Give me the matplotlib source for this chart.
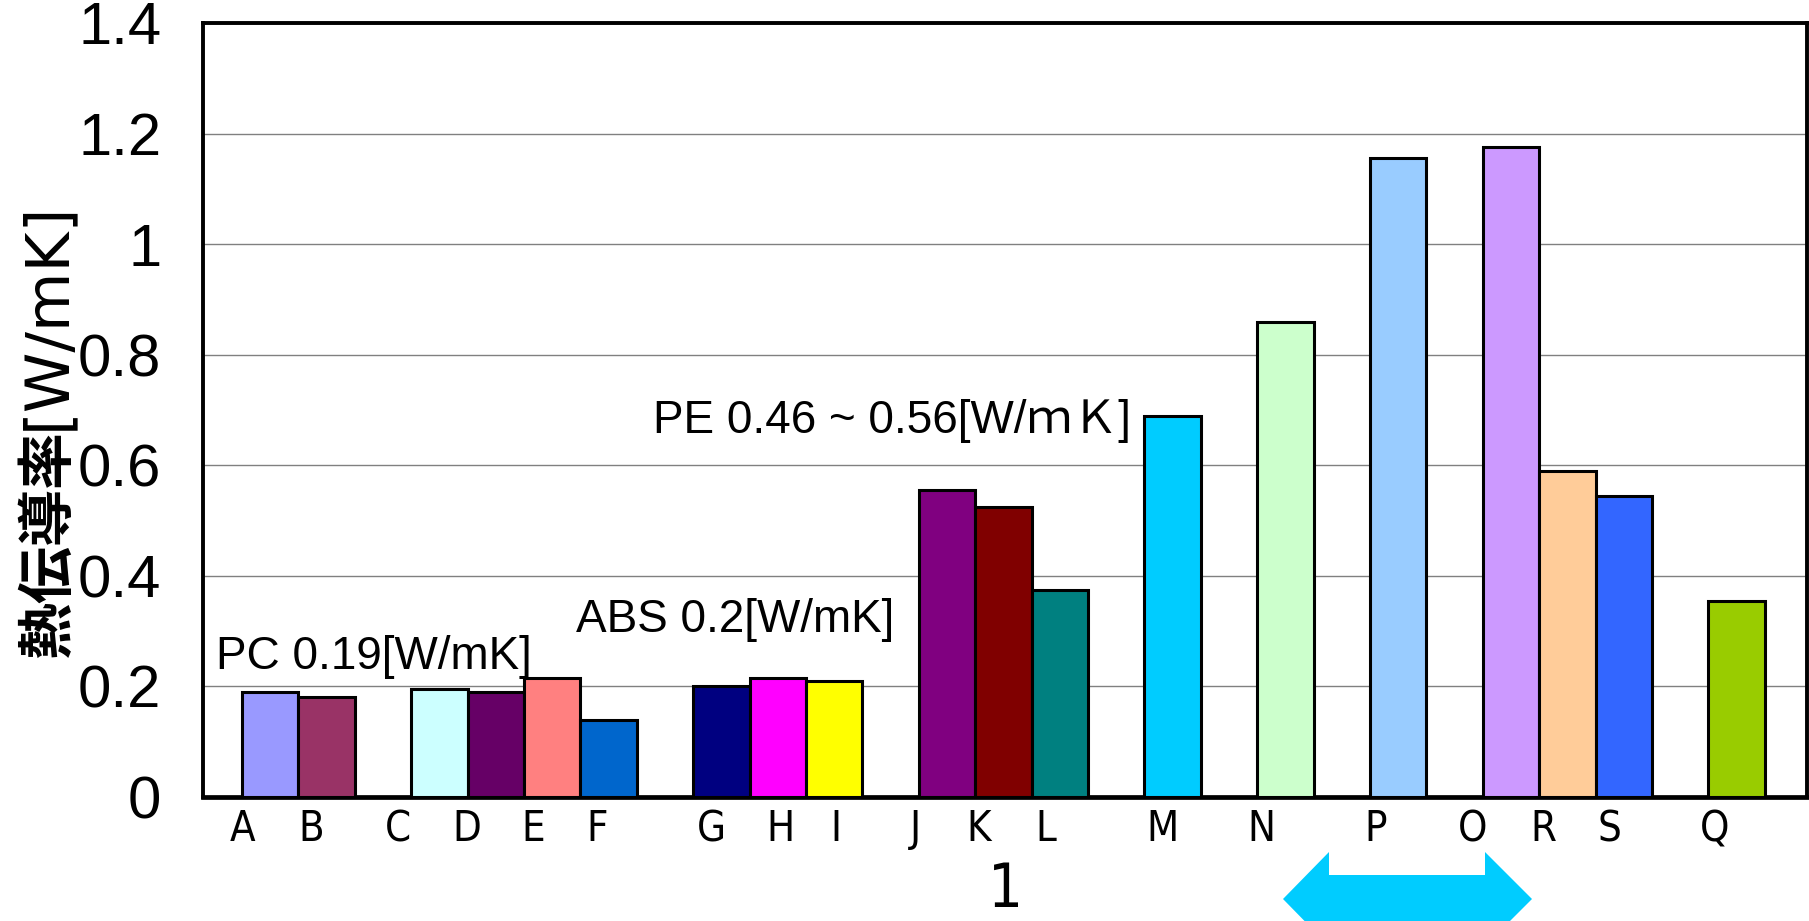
import matplotlib
matplotlib.use('Agg')
import matplotlib.pyplot as plt
from matplotlib.patches import Polygon
import numpy as np

# bar data
labels = ['A', 'B', 'C', 'D', 'E', 'F', 'G', 'H', 'I', 'J', 'K', 'L',
          'M', 'N', 'P', 'O', 'R', 'S', 'Q']
values = [0.19, 0.18, 0.195, 0.19, 0.215, 0.14, 0.2, 0.215, 0.21,
          0.555, 0.525, 0.375, 0.69, 0.86, 1.155, 1.175, 0.59, 0.545, 0.355]
colors = ['#9999FF', '#993366', '#CCFFFF', '#660066', '#FF8080', '#0066CC',
          '#000080', '#FF00FF', '#FFFF00', '#800080', '#800000', '#008080',
          '#00CCFF', '#CCFFCC', '#99CCFF', '#CC99FF', '#FFCC99', '#3366FF',
          '#99CC00']
# slot of each bar on the category axis (empty slots separate the groups)
slots = [0, 1, 3, 4, 5, 6, 8, 9, 10, 12, 13, 14, 16, 18, 20, 22, 23, 24, 26]
# the letters are not centred under their bars in the original
label_slots = [-0.49, 0.72, 2.27, 3.48, 4.66, 5.79, 7.83, 9.04, 10.04, 11.44,
               12.56, 13.75, 15.83, 17.57, 19.6, 21.32, 22.57, 23.75, 25.61]

yticks = [0, 0.2, 0.4, 0.6, 0.8, 1.0, 1.2, 1.4]
ytick_labels = ['0', '0.2', '0.4', '0.6', '0.8', '1', '1.2', '1.4']

notes = [('PC 0.19[W/mK]', -0.96, 0.231),
         ('ABS 0.2[W/mK]', 5.42, 0.298),
         ('PE 0.46 ~ 0.56[W/ｍＫ]', 6.79, 0.659)]

W, H = 1809, 921
fig = plt.figure(figsize=(W / 100, H / 100), dpi=100)
ax = fig.add_axes([203 / W, 1 - 797 / H, (1807 - 203) / W, (797 - 23) / H])

ax.bar(slots, values, width=1.0, color=colors, edgecolor='black',
       linewidth=2.2, zorder=3)

ax.set_xlim(-1.19, 27.25)
ax.set_ylim(0, 1.4)
ax.set_yticks(yticks)
ax.set_yticklabels(ytick_labels, family='Liberation Sans', fontsize=43)
ax.set_xticks(label_slots)
ax.set_xticklabels(labels, family='DejaVu Sans', stretch='condensed', fontsize=30)
ax.tick_params(axis='y', length=0, pad=30)
ax.tick_params(axis='x', length=0, pad=8)
ax.yaxis.grid(True, color='#808080', linewidth=1.0, zorder=0)

for side in ['left', 'right', 'top', 'bottom']:
    ax.spines[side].set_linewidth(2.8)
ax.spines['bottom'].set_linewidth(3.4)

ax.set_xlabel('1', family='DejaVu Sans', stretch='condensed', fontsize=44)
ax.xaxis.set_label_coords(0.5, -0.083)
ax.xaxis.label.set_va('top')

for txt, x, y in notes:
    ax.text(x, y, txt, fontsize=33, va='baseline', ha='left',
            family=['Liberation Sans', 'Noto Sans CJK JP'], zorder=4)

# y axis title: bold kanji followed by the unit in regular weight
t1 = fig.text(48 / W, 1 - 658 / H, '熱伝導率', rotation=90, ha='center', va='bottom',
              family=['Noto Sans CJK JP'], fontweight='bold', fontsize=41)
ax.annotate('[W/mK]', xy=(0.5, 1.0), xycoords=t1, rotation=90, ha='center',
            va='bottom', family='DejaVu Sans', fontsize=44)

# cyan double arrow below the plot
px = [1283, 1329, 1329, 1485, 1485, 1532, 1485, 1485, 1329, 1329]
py = [899, 852, 875, 875, 852, 899, 946, 923, 923, 946]
pts = np.column_stack([np.array(px) / W, 1 - np.array(py) / H])
fig.patches.append(Polygon(pts, closed=True, facecolor='#00CCFF', edgecolor='none',
                           transform=fig.transFigure))

fig.savefig('out.png', dpi=100)
